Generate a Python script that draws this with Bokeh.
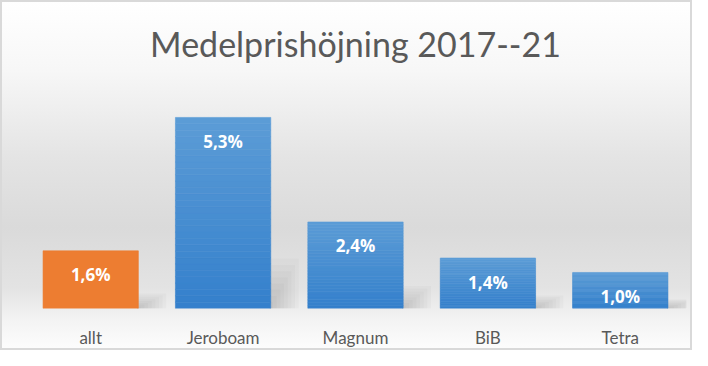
from bokeh.plotting import figure
from bokeh.models import FactorRange, Range1d, ColumnDataSource, LabelSet, Title
from bokeh.core.properties import value
from bokeh.transform import dodge
from bokeh.embed import file_html
from bokeh.resources import INLINE

# ---- data ----
categories = ["allt", "Jeroboam", "Magnum", "BiB", "Tetra"]
values = [1.6, 5.3, 2.4, 1.4, 1.0]
value_labels = ["1,6%", "5,3%", "2,4%", "1,4%", "1,0%"]
title_text = "Medelprishöjning 2017--21"

FONT = "Lato"
LABEL_FONT = "Open Sans"
ORANGE = "#ED7D31"
BLUE_TOP = (92, 156, 214)
BLUE_BOTTOM = (52, 128, 204)
BAR_W = 0.72

W, H = 692, 350
p = figure(
    width=W, height=H,
    x_range=FactorRange(*categories, range_padding=0),
    y_range=Range1d(0, 6.13),
    output_backend="svg", toolbar_location=None,
    min_border_left=24, min_border_right=6,
    min_border_top=85, min_border_bottom=33,
)
p.border_fill_alpha = 0
p.background_fill_alpha = 0
p.outline_line_color = None
p.styles = {
    "background": "linear-gradient(to bottom, #ffffff 0%, #f7f7f7 20%, #e4e4e4 45%, #dadada 65%, #e3e3e3 82%, #f4f4f4 92%, #fdfdfd 100%)",
    "box-shadow": "inset 0 0 0 2px #d9d9d9",
}

# soft cast shadows to the right of each bar (layered translucent boxes)
K = 8
for k in range(K):
    f = 1 - k / K
    w = 0.22 * f
    p.vbar(x=dodge("x", BAR_W / 2 + w / 2 - 0.01, range=p.x_range), top="st", width=w,
           source=ColumnDataSource(dict(x=categories, st=[0.26 * v * f for v in values])),
           fill_color="#555555", fill_alpha=0.035, line_color=None)

# bars: orange for "allt", vertical blue gradient for the others (sliced)
N = 30
xs, bottoms, tops, colors = [], [], [], []
for cat, v in zip(categories, values):
    if cat == "allt":
        xs.append(cat); bottoms.append(0); tops.append(v); colors.append(ORANGE)
        continue
    for i in range(N):
        t = (i + 0.5) / N  # 0 bottom -> 1 top
        r = round(BLUE_BOTTOM[0] + (BLUE_TOP[0] - BLUE_BOTTOM[0]) * t)
        g = round(BLUE_BOTTOM[1] + (BLUE_TOP[1] - BLUE_BOTTOM[1]) * t)
        b = round(BLUE_BOTTOM[2] + (BLUE_TOP[2] - BLUE_BOTTOM[2]) * t)
        xs.append(cat)
        bottoms.append(v * i / N)
        tops.append(v * (i + 1) / N)
        colors.append("#%02x%02x%02x" % (r, g, b))

bar_src = ColumnDataSource(dict(x=xs, bottom=bottoms, top=tops, color=colors))
p.vbar(x="x", bottom="bottom", top="top", width=BAR_W, source=bar_src,
       fill_color="color", line_color="color", line_width=0.6)

lab_src = ColumnDataSource(dict(x=categories, y=values, text=value_labels))
p.add_layout(LabelSet(x="x", y="y", text="text", source=lab_src,
                      y_offset=-24, text_align="center", text_baseline="middle",
                      text_color="white", text_font=value(LABEL_FONT),
                      text_font_size="17px", text_font_style="bold"))

p.title = Title(text=title_text, align="center", vertical_align="top",
                text_font=FONT, text_font_size="34px", text_font_style="normal",
                text_color="#595959", standoff=44, offset=-3)

p.yaxis.visible = False
p.xaxis.axis_line_color = None
p.xaxis.major_tick_line_color = None
p.xaxis.minor_tick_line_color = None
p.xaxis.major_label_text_font = FONT
p.xaxis.major_label_text_font_size = "17px"
p.xaxis.major_label_text_color = "#595959"
p.xaxis.major_label_standoff = 12
p.xgrid.visible = False
p.ygrid.visible = False

open("out.html", "w").write(file_html(p, INLINE))
